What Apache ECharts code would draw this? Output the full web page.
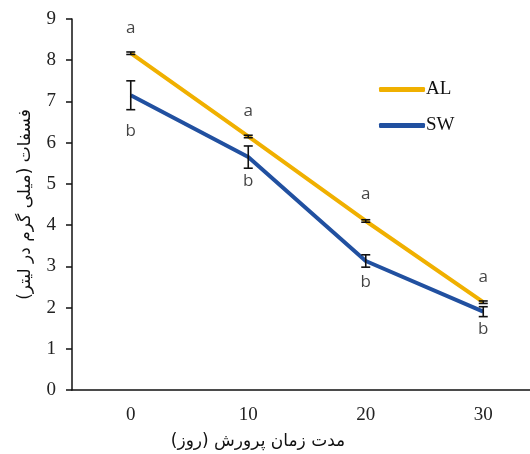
<!DOCTYPE html>
<html><head><meta charset="utf-8">
<script src="https://cdn.jsdelivr.net/npm/echarts@6/dist/echarts.min.js"></script>
<style>html,body{margin:0;padding:0;background:#fff;overflow:hidden}#c{width:545px;height:454px}</style>
</head><body><div id="c"></div>
<script>
const categories = ['0', '10', '20', '30'];
const alValues = [8.17, 6.15, 4.1, 2.13];
const swValues = [7.15, 5.65, 3.13, 1.9];
const alErr = [0.03, 0.03, 0.03, 0.03];
const swErr = [0.35, 0.27, 0.15, 0.12];
const alLetters = ['a', 'a', 'a', 'a'];
const swLetters = ['b', 'b', 'b', 'b'];
const alLetterY = [8.79, 6.77, 4.76, 2.74];
const swLetterY = [6.29, 5.07, 2.62, 1.48];
const yTicks = [0, 9, 1];
const xTitle = 'مدت زمان پرورش (روز)';
const yTitle = 'فسفات (میلی گرم در لیتر)';

const chart = echarts.init(document.getElementById('c'));
const serif = 'Liberation Serif';
const fa = 'DejaVu Sans';

function errSeries(vals, errs, color) {
  return {
    type: 'custom',
    silent: true,
    z: 5,
    data: vals.map((v, i) => [i, v - errs[i], v + errs[i]]),
    renderItem: function (params, api) {
      const lo = api.coord([api.value(0), api.value(1)]);
      const hi = api.coord([api.value(0), api.value(2)]);
      const w = 4.5;
      const st = { stroke: color, lineWidth: 1.6 };
      return {
        type: 'group',
        children: [
          { type: 'line', shape: { x1: hi[0], y1: hi[1], x2: lo[0], y2: lo[1] }, style: st },
          { type: 'line', shape: { x1: hi[0] - w, y1: hi[1], x2: hi[0] + w, y2: hi[1] }, style: st },
          { type: 'line', shape: { x1: lo[0] - w, y1: lo[1], x2: lo[0] + w, y2: lo[1] }, style: st }
        ]
      };
    }
  };
}
function letterSeries(ys, letters) {
  return {
    type: 'scatter',
    silent: true,
    symbolSize: 0,
    z: 6,
    data: ys.map((y, i) => [i, y, letters[i]]),
    label: {
      show: true, position: 'inside', formatter: p => p.data[2],
      fontFamily: 'Open Sans', fontSize: 17, color: '#141414'
    }
  };
}

chart.setOption({
  animation: false,
  grid: { left: 72, width: 470, top: 19, bottom: 64, containLabel: false },
  legend: {
    orient: 'vertical', left: 374, top: 75, itemGap: 17,
    itemWidth: 46, itemHeight: 5, icon: 'roundRect',
    data: ['AL', 'SW'],
    textStyle: { fontFamily: serif, fontSize: 19, color: '#111', padding: [0, 0, 0, -4] }
  },
  graphic: [
    { type: 'text', x: 258, y: 442, style: { text: xTitle, font: '17px "DejaVu Sans"', fill: '#111', align: 'center', verticalAlign: 'middle' } }
  ],
  xAxis: {
    type: 'category', data: categories, boundaryGap: true,
    axisLine: { lineStyle: { color: '#111', width: 1.5 } },
    axisTick: { alignWithLabel: true, length: 5, lineStyle: { color: '#111', width: 1.5 } },
    axisLabel: { fontFamily: serif, fontSize: 19, color: '#222', margin: 16 }
  },
  yAxis: {
    type: 'value', min: yTicks[0], max: yTicks[1], interval: yTicks[2],
    name: yTitle, nameLocation: 'middle', nameGap: 38,
    nameTextStyle: { fontFamily: fa, fontSize: 17, color: '#111' },
    axisLine: { show: true, lineStyle: { color: '#111', width: 1.5 } },
    axisTick: { show: true, length: 6, lineStyle: { color: '#111', width: 1.5 } },
    splitLine: { show: false },
    axisLabel: { fontFamily: serif, fontSize: 19, color: '#222', margin: 16 }
  },
  series: [
    { name: 'AL', type: 'line', data: alValues, symbol: 'none', z: 3,
      lineStyle: { color: '#F0B000', width: 4 }, itemStyle: { color: '#F0B000' } },
    { name: 'SW', type: 'line', data: swValues, symbol: 'none', z: 4,
      lineStyle: { color: '#2150A0', width: 4 }, itemStyle: { color: '#2150A0' } },
    errSeries(alValues, alErr, '#111'),
    errSeries(swValues, swErr, '#111'),
    letterSeries(alLetterY, alLetters),
    letterSeries(swLetterY, swLetters)
  ]
});
</script></body></html>
